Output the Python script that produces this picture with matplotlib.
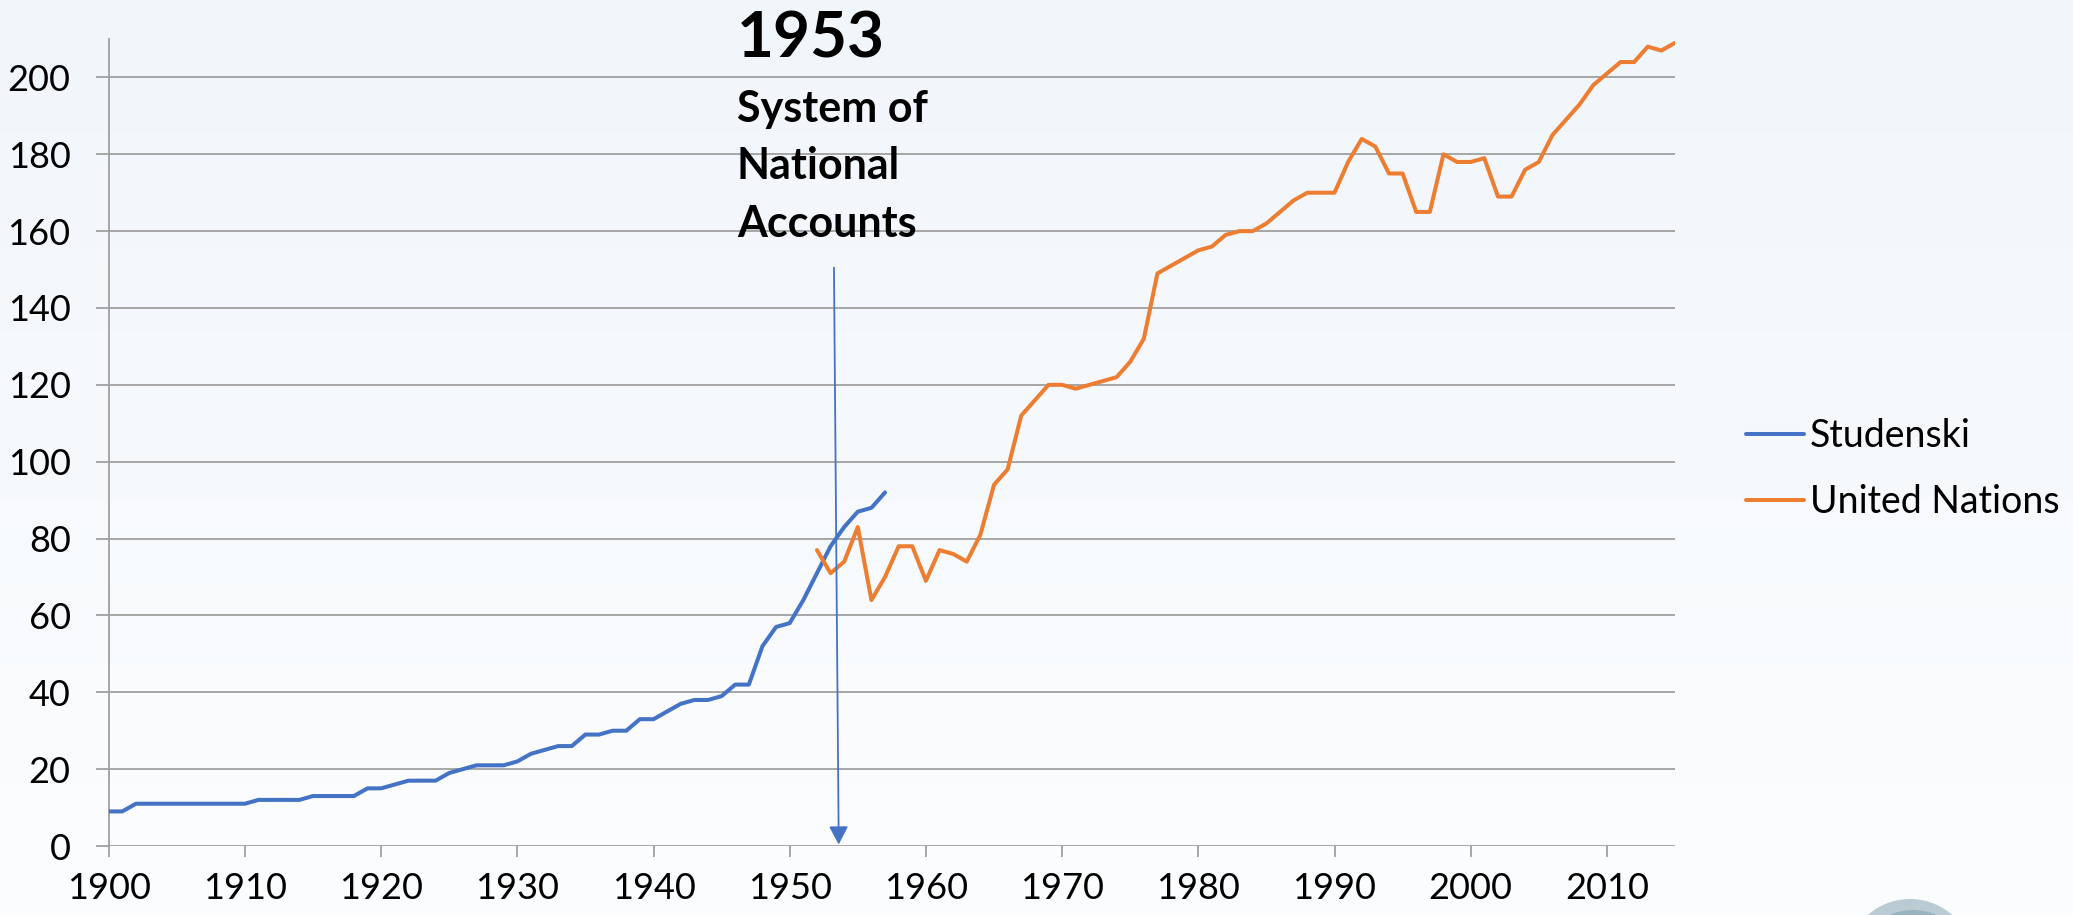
import numpy as np
import matplotlib
matplotlib.use("Agg")
import matplotlib.pyplot as plt
from matplotlib.patches import Circle

# ---------------- data ----------------
studenski_years = list(range(1900, 1958))
studenski_values = [9, 9, 11, 11, 11, 11, 11, 11, 11, 11, 11,      # 1900-1910
                    12, 12, 12, 12, 13, 13, 13, 13, 15, 15,       # 1911-1920
                    16, 17, 17, 17, 19, 20, 21, 21, 21, 22,       # 1921-1930
                    24, 25, 26, 26, 29, 29, 30, 30, 33, 33,       # 1931-1940
                    35, 37, 38, 38, 39, 42, 42, 52, 57, 58,       # 1941-1950
                    64, 71, 78, 83, 87, 88, 92]                   # 1951-1957

un_years = list(range(1952, 2016))
un_values = [77, 71, 74, 83, 64, 70, 78, 78, 69,                  # 1952-1960
             77, 76, 74, 81, 94, 98, 112, 116, 120, 120,          # 1961-1970
             119, 120, 121, 122, 126, 132, 149, 151, 153, 155,    # 1971-1980
             156, 159, 160, 160, 162, 165, 168, 170, 170, 170,    # 1981-1990
             178, 184, 182, 175, 175, 165, 165, 180, 178, 178,    # 1991-2000
             179, 169, 169, 176, 178, 185, 189, 193, 198, 201,    # 2001-2010
             204, 204, 208, 207, 209]                             # 2011-2015

series_names = ["Studenski", "United Nations"]
x_ticks = list(range(1900, 2011, 10))
y_ticks = list(range(0, 201, 20))
annot_year = "1953"
annot_lines = ["System of", "National", "Accounts"]

# ---------------- figure ----------------
W, H = 2073, 915
fig = plt.figure(figsize=(W / 100, H / 100), dpi=100)
plt.rcParams['font.family'] = ['Lato', 'DejaVu Sans']

# background gradient
bgax = fig.add_axes([0, 0, 1, 1], zorder=-10)
top = np.array([0xF1, 0xF6, 0xFB]) / 255
bot = np.array([0xFC, 0xFD, 0xFE]) / 255
t = np.linspace(0, 1, 256)[:, None]
grad = top[None, :] * (1 - t) + bot[None, :] * t
grad = np.repeat(grad[:, None, :], 2, axis=1)
bgax.imshow(grad, aspect='auto', extent=[0, 1, 0, 1], origin='upper')
bgax.set_xlim(0, 1)
bgax.set_ylim(0, 1)
bgax.axis('off')
# decorative logo circle in the corner (inches, from bottom-left)
bgax.add_patch(Circle((19.10, -0.48), 0.64, transform=fig.dpi_scale_trans,
                      facecolor='#BACBD4', edgecolor='none', clip_on=False))
bgax.add_patch(Circle((19.13, -0.53), 0.58, transform=fig.dpi_scale_trans,
                      facecolor='#9AB3C0', edgecolor='none', clip_on=False))

L, R, B, T = 108.7, 1675, 846, 39
ax = fig.add_axes([L / W, 1 - B / H, (R - L) / W, (B - T) / H])
ax.patch.set_alpha(0)

grid_col = '#A0A0A0'
ax.plot(studenski_years, studenski_values, color='#4472C4', lw=2.9,
        solid_joinstyle='round', solid_capstyle='round', label=series_names[0], zorder=3)
ax.plot(un_years, un_values, color='#ED7D31', lw=2.9,
        solid_joinstyle='round', solid_capstyle='round', label=series_names[1], zorder=3)

ax.set_xlim(1900, 2015)
ax.set_ylim(0, 210)
ax.set_xticks(x_ticks)
ax.set_yticks(y_ticks)
ax.yaxis.grid(True, color=grid_col, lw=1.3, zorder=0)
ax.set_axisbelow(True)

for s in ['top', 'right', 'bottom']:
    ax.spines[s].set_visible(False)
ax.spines['left'].set_color(grid_col)
ax.spines['left'].set_linewidth(1.3)

ax.tick_params(axis='y', length=9.4, width=1.3, color=grid_col, pad=18,
               labelsize=26, labelcolor='black')
ax.tick_params(axis='x', length=8, width=1.3, color=grid_col, pad=11,
               labelsize=26, labelcolor='black')

# annotation arrow
ax.annotate('', xy=(1953.6, 0.4), xytext=(1953.25, 150.5),
            arrowprops=dict(arrowstyle='-|>,head_length=1.1,head_width=0.58',
                            color='#4472C4', lw=1.3, shrinkA=0, shrinkB=0),
            annotation_clip=False, zorder=4)

fig.text(737 / W, 1 - 57 / H, annot_year, fontsize=46, fontweight='bold',
         ha='left', va='baseline')
for line, base in zip(annot_lines, [122, 179, 237]):
    fig.text(737 / W, 1 - base / H, line, fontsize=31, fontweight='bold',
             ha='left', va='baseline')

# legend
leg = ax.legend(loc='center left', bbox_to_anchor=(1746 / W, 1 - 469 / H),
                bbox_transform=fig.transFigure, frameon=False, fontsize=27,
                handlelength=1.55, handletextpad=0.15, labelspacing=0.82,
                borderpad=0, borderaxespad=0)

fig.savefig('out.png', dpi=100)
